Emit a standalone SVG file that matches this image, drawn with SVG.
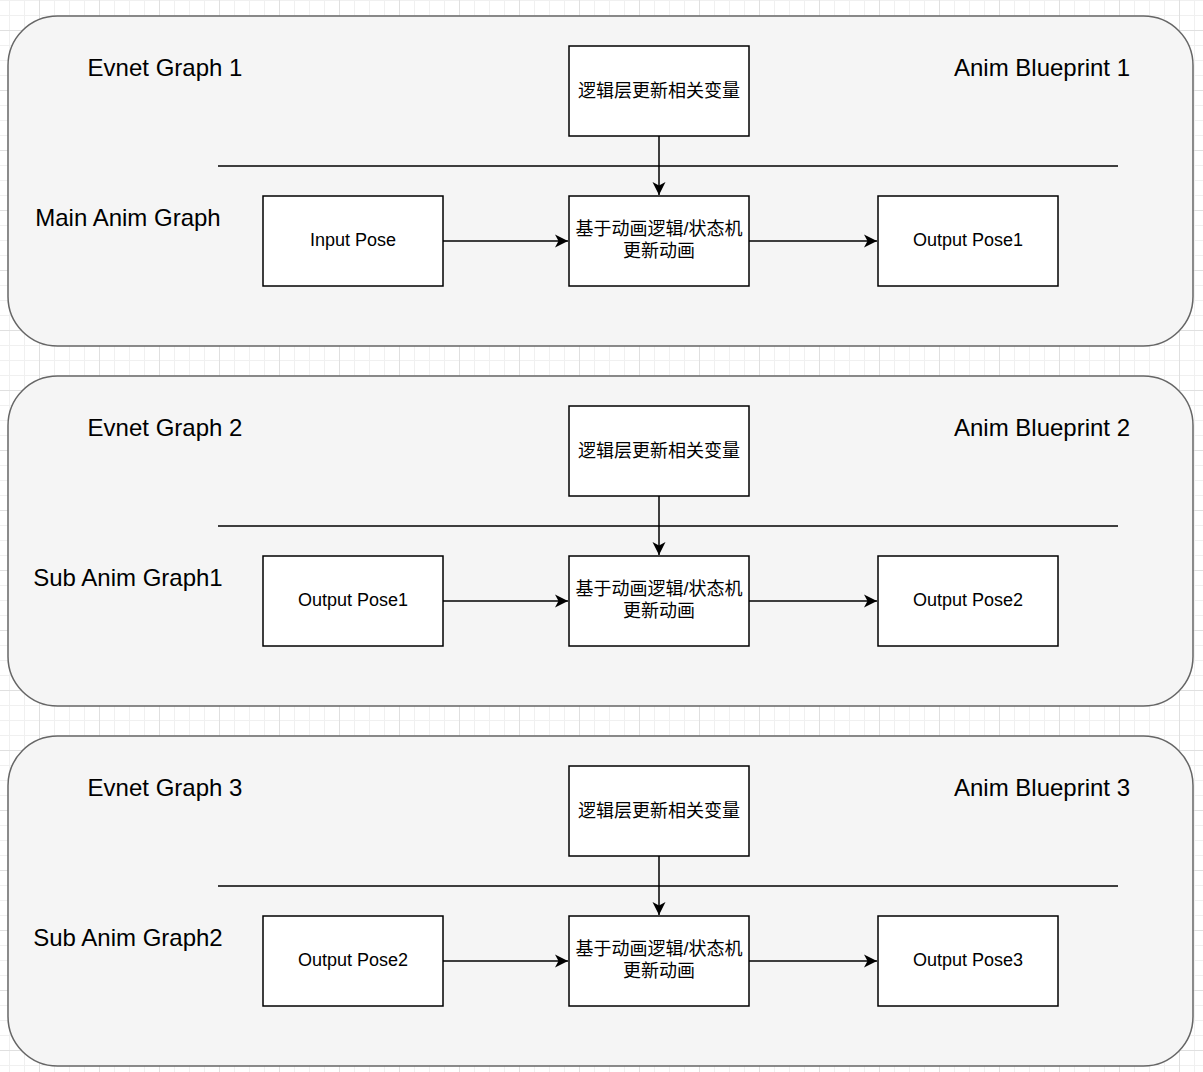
<svg xmlns="http://www.w3.org/2000/svg" width="1203" height="1072" viewBox="0 0 1203 1072">
<defs>
<pattern id="grid" patternUnits="userSpaceOnUse" x="39" y="30" width="60" height="60">
<rect width="60" height="60" fill="#ffffff"/>
<g fill="#f0f0f0">
<rect x="15" y="0" width="1" height="60"/><rect x="30" y="0" width="1" height="60"/><rect x="45" y="0" width="1" height="60"/>
<rect x="0" y="15" width="60" height="1"/><rect x="0" y="30" width="60" height="1"/><rect x="0" y="45" width="60" height="1"/>
</g>
<g fill="#e0e0e0">
<rect x="0" y="0" width="1" height="60"/><rect x="0" y="0" width="60" height="1"/>
</g>
</pattern>
<marker id="arrow" markerUnits="userSpaceOnUse" viewBox="0 0 14 14" markerWidth="14" markerHeight="14" refX="13" refY="7" orient="auto">
<path d="M13,7 L0,0.5 L3.5,7 L0,13.5 Z" fill="#000"/>
</marker>
</defs>
<style>
.container{fill:#f5f5f5;stroke:#666666;stroke-width:1.5}
.box{fill:#ffffff;stroke:#000000;stroke-width:1.5}
.sep{stroke:#000000;stroke-width:1.5;fill:none}
.conn{stroke:#000000;stroke-width:1.5;fill:none;marker-end:url(#arrow)}
.lbl{font-family:"Liberation Sans","Noto Sans CJK SC",sans-serif;font-size:24px;fill:#000;text-anchor:middle}
.t{font-family:"Liberation Sans","Noto Sans CJK SC",sans-serif;font-size:18px;fill:#000;text-anchor:middle}
.cjk{font-family:"Noto Sans CJK SC","Liberation Sans",sans-serif;font-size:18px;fill:#000;text-anchor:middle}
</style>
<rect width="1203" height="1072" fill="url(#grid)"/>

<g id="blueprint1">
<rect class="container" x="8" y="16" width="1185" height="330" rx="49.5" ry="49.5"/>
<text class="lbl" x="165" y="76">Evnet Graph 1</text>
<text class="lbl" x="1042" y="76">Anim Blueprint 1</text>
<text class="lbl" x="128" y="226">Main Anim Graph</text>
<line class="sep" x1="218" y1="166" x2="1118" y2="166"/>
</g>
<g id="bp1-logic"><rect class="box" x="569" y="46" width="180" height="90"/><text class="cjk" x="659" y="97">逻辑层更新相关变量</text></g>
<g id="bp1-input"><rect class="box" x="263" y="196" width="180" height="90"/><text class="t" x="353" y="246">Input Pose</text></g>
<g id="bp1-update"><rect class="box" x="569" y="196" width="180" height="90"/><text class="t" x="659" y="235">基于动画逻辑/状态机<tspan x="659" y="256.5">更新动画</tspan></text></g>
<g id="bp1-output"><rect class="box" x="878" y="196" width="180" height="90"/><text class="t" x="968" y="246">Output Pose1</text></g>

<g id="blueprint2">
<rect class="container" x="8" y="376" width="1185" height="330" rx="49.5" ry="49.5"/>
<text class="lbl" x="165" y="436">Evnet Graph 2</text>
<text class="lbl" x="1042" y="436">Anim Blueprint 2</text>
<text class="lbl" x="128" y="586">Sub Anim Graph1</text>
<line class="sep" x1="218" y1="526" x2="1118" y2="526"/>
</g>
<g id="bp2-logic"><rect class="box" x="569" y="406" width="180" height="90"/><text class="cjk" x="659" y="457">逻辑层更新相关变量</text></g>
<g id="bp2-input"><rect class="box" x="263" y="556" width="180" height="90"/><text class="t" x="353" y="606">Output Pose1</text></g>
<g id="bp2-update"><rect class="box" x="569" y="556" width="180" height="90"/><text class="t" x="659" y="595">基于动画逻辑/状态机<tspan x="659" y="616.5">更新动画</tspan></text></g>
<g id="bp2-output"><rect class="box" x="878" y="556" width="180" height="90"/><text class="t" x="968" y="606">Output Pose2</text></g>

<g id="blueprint3">
<rect class="container" x="8" y="736" width="1185" height="330" rx="49.5" ry="49.5"/>
<text class="lbl" x="165" y="796">Evnet Graph 3</text>
<text class="lbl" x="1042" y="796">Anim Blueprint 3</text>
<text class="lbl" x="128" y="946">Sub Anim Graph2</text>
<line class="sep" x1="218" y1="886" x2="1118" y2="886"/>
</g>
<g id="bp3-logic"><rect class="box" x="569" y="766" width="180" height="90"/><text class="cjk" x="659" y="817">逻辑层更新相关变量</text></g>
<g id="bp3-input"><rect class="box" x="263" y="916" width="180" height="90"/><text class="t" x="353" y="966">Output Pose2</text></g>
<g id="bp3-update"><rect class="box" x="569" y="916" width="180" height="90"/><text class="t" x="659" y="955">基于动画逻辑/状态机<tspan x="659" y="976.5">更新动画</tspan></text></g>
<g id="bp3-output"><rect class="box" x="878" y="916" width="180" height="90"/><text class="t" x="968" y="966">Output Pose3</text></g>

<g id="connectors">
<line class="conn" x1="659" y1="136" x2="659" y2="195"/>
<line class="conn" x1="443" y1="241" x2="568" y2="241"/>
<line class="conn" x1="749" y1="241" x2="877" y2="241"/>
<line class="conn" x1="659" y1="496" x2="659" y2="555"/>
<line class="conn" x1="443" y1="601" x2="568" y2="601"/>
<line class="conn" x1="749" y1="601" x2="877" y2="601"/>
<line class="conn" x1="659" y1="856" x2="659" y2="915"/>
<line class="conn" x1="443" y1="961" x2="568" y2="961"/>
<line class="conn" x1="749" y1="961" x2="877" y2="961"/>
</g>
</svg>
